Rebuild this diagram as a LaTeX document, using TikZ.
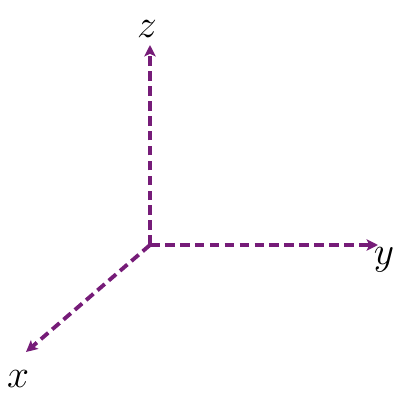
\documentclass[tikz,border=0pt]{standalone}
\usepackage{xcolor}
\usepackage{tikz}
\usetikzlibrary{arrows.meta,positioning}
\definecolor{axispurple}{RGB}{118,28,120}

\begin{document}
\begin{tikzpicture}[
    axis/.style={draw=axispurple,line width=2.2pt,dash pattern=on 5.5pt off 3pt,-{Stealth[length=6.5pt,width=6.5pt,inset=1.5pt]}},
    axlabel/.style={inner sep=0pt,font=\LARGE,scale=1.3,transform shape}]
  \useasboundingbox (0,0) rectangle (7.84,7.88);
  \coordinate (o) at (3.0,2.98);
  \coordinate (zend) at (3.0,6.98);
  \coordinate (yend) at (7.56,2.98);
  \coordinate (xend) at (0.52,0.84);
  \node[axlabel] (zlab) at (2.94,7.3) {$z$};
  \node[axlabel] (ylab) at (7.68,2.68) {$y$};
  \node[axlabel] (xlab) at (0.36,0.3) {$x$};
  \foreach \e in {zend,yend,xend}{\draw[axis] (o)--(\e);}
\end{tikzpicture}
\end{document}
